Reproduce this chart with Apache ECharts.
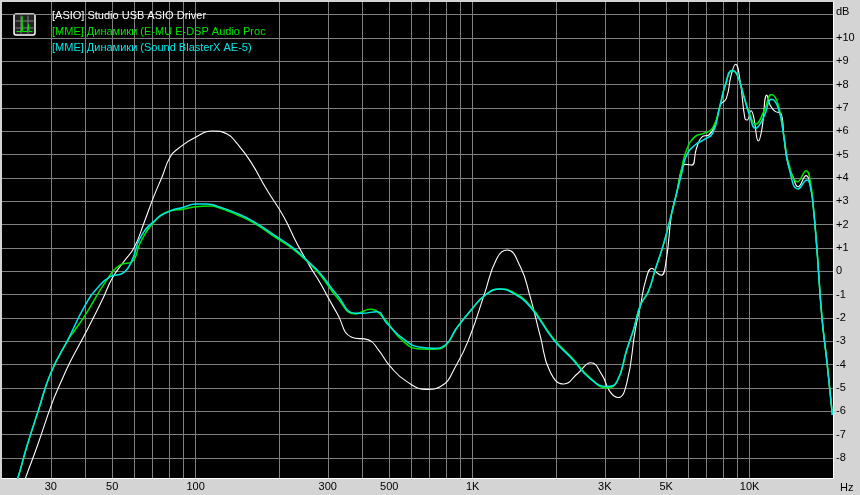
<!DOCTYPE html>
<html>
<head>
<meta charset="utf-8">
<style>
html, body { margin: 0; padding: 0; background: #d4d4d4; }
#chart { width: 860px; height: 495px; }
</style>
<script src="https://cdn.jsdelivr.net/npm/echarts@6/dist/echarts.min.js"></script>
</head>
<body>
<div id="chart"></div>
<script>
var whiteFreq = [23.5, 24.3, 26.8, 30.3, 32.5, 35.3, 40, 46, 50, 55, 60, 65, 70.6, 75.7, 81, 86.8, 98.4, 116, 130, 141, 158, 181, 208, 232, 259, 282, 302, 324, 366, 421, 457, 505, 579, 684, 766, 875, 982, 1100, 1224, 1332, 1486, 1613, 1757, 1903, 2134, 2400, 2670, 2930, 3132, 3350, 3600, 3870, 4040, 4220, 4440, 4620, 4800, 5000, 5230, 5450, 5670, 5860, 6180, 6430, 6750, 7120, 7530, 7850, 8240, 8580, 8900, 9250, 9620, 9800, 10120, 10340, 10760, 11060, 11540, 11860, 12400, 12950, 13330, 13730, 14340, 14960, 16000, 16600, 17000, 17510, 18230, 19040, 19900];
var whiteDb = [-9.4, -8.87, -7.5, -5.66, -4.8, -3.87, -2.66, -1.23, -0.3, 0.41, 1.02, 2.05, 3.2, 4.05, 4.91, 5.27, 5.7, 6.01, 5.88, 5.48, 4.7, 3.48, 2.34, 1.2, 0.2, -0.51, -1.16, -1.8, -2.83, -2.94, -3.37, -4.09, -4.73, -5.06, -4.94, -4.01, -2.73, -1.02, 0.56, 0.91, 0.2, -1.09, -2.8, -4.3, -4.83, -4.37, -3.92, -4.44, -5.16, -5.41, -4.8, -2.48, -1.44, -0.37, 0.13, -0.06, -0.17, 0.48, 2.48, 3.34, 4.34, 4.58, 4.55, 5.27, 5.77, 5.84, 6.34, 7.13, 7.41, 8.41, 8.87, 8.12, 6.54, 6.48, 6.88, 6.62, 5.58, 6.05, 7.55, 7.12, 6.84, 6.78, 5.63, 4.63, 4.05, 3.62, 4.1, 3.62, 2.7, 0.91, -1.94, -3.94, -6.16];

var greenFreq = [22, 22.8, 24.6, 27.1, 30, 34.8, 36.3, 40, 47.8, 53.5, 59, 63, 70, 80.6, 90, 100, 113, 123, 141, 162, 196, 226, 259, 282, 324, 377, 427, 466, 564, 647, 724, 796, 875, 988, 1111, 1260, 1400, 1613, 1953, 2305, 2644, 3055, 3320, 3600, 3815, 4040, 4310, 4560, 4880, 5230, 5430, 5670, 5920, 6350, 6820, 7350, 7830, 8170, 8640, 9020, 9540, 10000, 10500, 11250, 12000, 12700, 13300, 13850, 14900, 16000, 16600, 17000, 17510, 18230, 19040, 19900];
var greenDb = [-9.3, -8.87, -7.5, -5.94, -4.36, -2.9, -2.59, -1.87, -0.37, 0.27, 0.41, 1.2, 2.05, 2.58, 2.66, 2.77, 2.8, 2.7, 2.42, 2.07, 1.42, 0.93, 0.3, -0.16, -1.12, -1.83, -1.63, -1.87, -3.02, -3.33, -3.34, -3.2, -2.44, -1.66, -1.02, -0.76, -0.9, -1.47, -2.87, -3.76, -4.55, -5, -4.73, -3.37, -2.48, -1.44, -0.87, 0.06, 1.13, 2.48, 3.27, 4.34, 5.2, 5.77, 5.91, 6.13, 7.13, 7.98, 8.6, 8.41, 7.48, 6.75, 6.3, 6.84, 7.58, 7.12, 5.77, 4.6, 3.84, 4.31, 3.77, 2.7, 0.91, -1.94, -3.94, -6.16];

var cyanFreq = [22, 22.8, 24.6, 27.1, 30, 34.8, 40, 44.6, 49.2, 55, 59, 63, 70.5, 80.6, 90.5, 100, 110, 123, 141, 162, 196, 226, 259, 282, 324, 377, 399, 451, 490, 564, 647, 724, 796, 875, 988, 1111, 1260, 1400, 1613, 1953, 2305, 2644, 3055, 3320, 3600, 3815, 4040, 4310, 4560, 4880, 5230, 5430, 5670, 5920, 6350, 6820, 7350, 7830, 8170, 8640, 9020, 9540, 10000, 10500, 11250, 12000, 12700, 13300, 13850, 14970, 16120, 16600, 17000, 17510, 18230, 19040, 19900];
var cyanDb = [-9.3, -8.87, -7.5, -5.94, -4.36, -2.87, -1.44, -0.66, -0.23, -0.06, 0.48, 1.42, 2.13, 2.58, 2.74, 2.88, 2.88, 2.74, 2.48, 2.13, 1.48, 0.98, 0.34, -0.09, -1.02, -1.8, -1.8, -1.73, -2.23, -2.91, -3.26, -3.3, -3.16, -2.44, -1.66, -1.02, -0.76, -0.94, -1.52, -2.91, -3.8, -4.58, -4.94, -4.73, -3.37, -2.48, -1.44, -0.87, 0.06, 1.13, 2.48, 3.27, 4.13, 4.98, 5.41, 5.63, 5.91, 7.13, 7.98, 8.6, 8.41, 7.48, 6.67, 6.13, 6.62, 7.37, 6.98, 5.77, 4.48, 3.53, 3.91, 3.57, 2.7, 0.91, -1.94, -3.94, -6.16];

var freqGrid = [30, 40, 50, 60, 70, 80, 90, 100, 200, 300, 400, 500, 600, 700, 800, 900, 1000, 2000, 3000, 4000, 5000, 6000, 7000, 8000, 9000, 10000];
var freqLabels = [30, 50, 100, 300, 500, 1000, 3000, 5000, 10000];
var dbGrid = [-8, -7, -6, -5, -4, -3, -2, -1, 0, 1, 2, 3, 4, 5, 6, 7, 8, 9, 10, 11];
var dbLabels = [-8, -7, -6, -5, -4, -3, -2, -1, 0, 1, 2, 3, 4, 5, 6, 7, 8, 9, 10];

var seriesNames = ['[ASIO] Studio USB ASIO Driver', '[MME] Динамики (E-MU E-DSP Audio Proc', '[MME] Динамики (Sound BlasterX AE-5)'];
var seriesColors = ['#ffffff', '#00e600', '#00e6e6'];

var uiFont = '"Liberation Sans", Arial, sans-serif';

function pairs(xs, ys) {
    return xs.map(function (x, i) {
        return [x, ys[i]];
    });
}

function makeLine(i, freq, db, width) {
    return {
        name: seriesNames[i],
        type: 'line',
        data: pairs(freq, db),
        showSymbol: false,
        smooth: 0.5,
        clip: true,
        silent: true,
        animation: false,
        lineStyle: { color: seriesColors[i], width: width },
        itemStyle: { color: seriesColors[i] }
    };
}

var chart = echarts.init(document.getElementById('chart'), null, { renderer: 'canvas' });

chart.setOption({
    animation: false,
    backgroundColor: '#d4d4d4',
    grid: {
        left: 2, right: 27, top: 2, bottom: 17,
        outerBoundsMode: 'none',
        show: true,
        backgroundColor: '#000000',
        borderWidth: 0
    },
    legend: {
        orient: 'vertical',
        left: 47, top: 9,
        icon: 'none',
        itemWidth: 0, itemHeight: 0, itemGap: 3,
        selectedMode: false,
        padding: 0,
        textStyle: { fontFamily: uiFont, fontSize: 11, padding: [0, 0, 0, 0], lineHeight: 13 },
        data: seriesNames.map(function (n, i) {
            return { name: n, textStyle: { color: seriesColors[i] } };
        })
    },
    xAxis: {
        type: 'log',
        logBase: 10,
        min: 20,
        max: 20000,
        name: 'Hz',
        nameLocation: 'end',
        nameGap: 7,
        nameTextStyle: { color: '#000', fontFamily: uiFont, fontSize: 11, align: 'left', verticalAlign: 'top', padding: [4, 0, 0, 0] },
        axisLine: { show: true, onZero: false, lineStyle: { color: '#ffffff', width: 1 } },
        axisTick: { show: false, customValues: freqGrid },
        axisLabel: {
            customValues: freqLabels,
            color: '#000', fontFamily: uiFont, fontSize: 11, margin: 3,
            formatter: function (v) {
                return v >= 1000 ? (v / 1000) + 'K' : '' + v;
            }
        },
        splitLine: { show: true, lineStyle: { color: '#808080', width: 1 } },
        minorSplitLine: { show: false }
    },
    yAxis: {
        type: 'value',
        position: 'right',
        min: -8.86,
        max: 11.54,
        name: 'dB',
        nameLocation: 'end',
        nameGap: -10,
        nameTextStyle: { color: '#000', fontFamily: uiFont, fontSize: 11, align: 'left', verticalAlign: 'middle', padding: [0, 0, 0, 3] },
        axisLine: { show: true, lineStyle: { color: '#ffffff', width: 1 } },
        axisTick: { show: false, customValues: dbGrid },
        axisLabel: {
            customValues: dbLabels,
            color: '#000', fontFamily: uiFont, fontSize: 11, margin: 3, align: 'left',
            formatter: function (v) {
                return v > 0 ? '+' + v : '' + v;
            }
        },
        splitLine: { show: true, lineStyle: { color: '#808080', width: 1 } }
    },
    graphic: [{
        // small analyzer icon in the plot corner
        type: 'group',
        left: 13, top: 13,
        silent: true,
        children: [
            { type: 'rect', shape: { x: 0.5, y: 0.5, width: 21, height: 21, r: 2 }, style: { fill: '#222', stroke: '#fff', lineWidth: 1.5 } },
            { type: 'line', shape: { x1: 2, y1: 7.5, x2: 20, y2: 7.5 }, style: { stroke: '#808080' } },
            { type: 'line', shape: { x1: 2, y1: 14.5, x2: 20, y2: 14.5 }, style: { stroke: '#808080' } },
            { type: 'line', shape: { x1: 7.5, y1: 2, x2: 7.5, y2: 20 }, style: { stroke: '#808080' } },
            { type: 'line', shape: { x1: 14.5, y1: 2, x2: 14.5, y2: 20 }, style: { stroke: '#808080' } },
            { type: 'polyline', shape: { points: [[3, 18], [8, 18], [8.5, 3], [9, 18], [14, 18], [15, 11], [15.5, 18], [19, 18]] }, style: { stroke: '#00e600', fill: 'none' } }
        ]
    }],
    series: [
        makeLine(0, whiteFreq, whiteDb, 1.1),
        makeLine(1, greenFreq, greenDb, 1.5),
        makeLine(2, cyanFreq, cyanDb, 1.5)
    ]
});
</script>
</body>
</html>
